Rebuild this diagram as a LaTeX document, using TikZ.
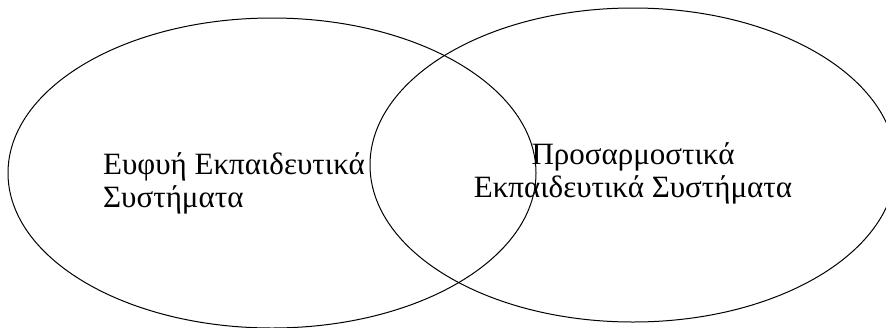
\documentclass[tikz,border=0pt]{standalone}
\usepackage{fontspec}
\setmainfont{Liberation Serif}
\usetikzlibrary{shapes.geometric}

\begin{document}
\begin{tikzpicture}[x=1pt,y=-1pt,font=\fontsize{31}{33}\selectfont]
  \tikzset{setshape/.style={draw=black,line width=1pt,ellipse,inner sep=0pt}}
  \clip (0,0) rectangle (886,327);
  \node[setshape,minimum width=528,minimum height=310] (ies) at (272,173) {};
  \node[setshape,minimum width=526,minimum height=314] (aes) at (633,165) {};
  \node[anchor=base west,align=left,inner sep=0pt] (iestext) at (103,207) {Ευφυή Εκπαιδευτικά\\Συστήματα};
  \node[anchor=base,align=center,inner sep=0pt] (aestext) at (633,197) {Προσαρμοστικά\\Εκπαιδευτικά Συστήματα};
\end{tikzpicture}
\end{document}
